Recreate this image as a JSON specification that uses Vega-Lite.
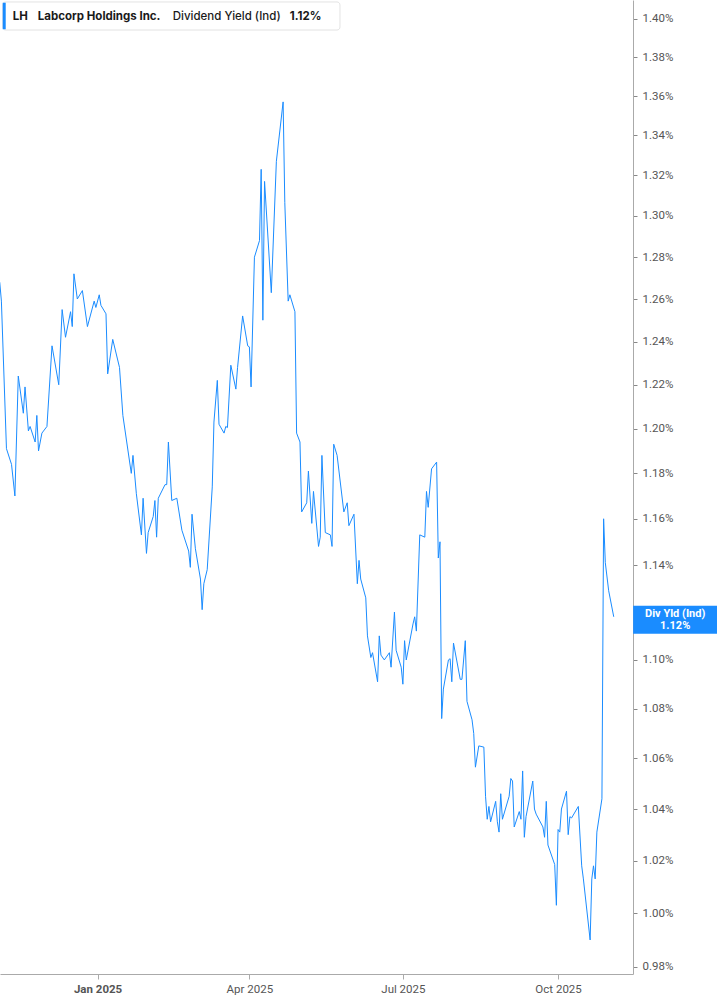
{
  "$schema": "https://vega.github.io/schema/vega-lite/v6.json",
  "width": 633,
  "height": 974,
  "autosize": "none",
  "padding": {"left": 0, "top": 0, "right": 84, "bottom": 31},
  "background": "white",
  "config": {"view": {"stroke": null}},
  "layer": [
    {
      "data": {"values": [
        {"date":"2024-11-04","yield":1.268},{"date":"2024-11-05","yield":1.259},{"date":"2024-11-08","yield":1.191},{"date":"2024-11-11","yield":1.184},{"date":"2024-11-13","yield":1.170},{"date":"2024-11-15","yield":1.224},{"date":"2024-11-18","yield":1.207},{"date":"2024-11-19","yield":1.219},{"date":"2024-11-21","yield":1.199},{"date":"2024-11-22","yield":1.201},{"date":"2024-11-25","yield":1.194},{"date":"2024-11-26","yield":1.206},{"date":"2024-11-27","yield":1.190},{"date":"2024-11-29","yield":1.198},
        {"date":"2024-12-02","yield":1.201},{"date":"2024-12-05","yield":1.238},{"date":"2024-12-09","yield":1.220},{"date":"2024-12-11","yield":1.255},{"date":"2024-12-13","yield":1.242},{"date":"2024-12-16","yield":1.254},{"date":"2024-12-17","yield":1.247},{"date":"2024-12-18","yield":1.272},{"date":"2024-12-20","yield":1.260},{"date":"2024-12-23","yield":1.264},{"date":"2024-12-26","yield":1.247},{"date":"2024-12-30","yield":1.259},{"date":"2024-12-31","yield":1.256},
        {"date":"2025-01-02","yield":1.262},{"date":"2025-01-03","yield":1.257},{"date":"2025-01-06","yield":1.253},{"date":"2025-01-07","yield":1.225},{"date":"2025-01-10","yield":1.241},{"date":"2025-01-14","yield":1.228},{"date":"2025-01-16","yield":1.206},{"date":"2025-01-21","yield":1.180},{"date":"2025-01-22","yield":1.188},{"date":"2025-01-24","yield":1.171},{"date":"2025-01-27","yield":1.153},{"date":"2025-01-28","yield":1.169},{"date":"2025-01-30","yield":1.145},{"date":"2025-01-31","yield":1.154},
        {"date":"2025-02-03","yield":1.161},{"date":"2025-02-04","yield":1.168},{"date":"2025-02-05","yield":1.152},{"date":"2025-02-06","yield":1.169},{"date":"2025-02-10","yield":1.175},{"date":"2025-02-11","yield":1.175},{"date":"2025-02-12","yield":1.194},{"date":"2025-02-14","yield":1.168},{"date":"2025-02-17","yield":1.169},{"date":"2025-02-20","yield":1.155},{"date":"2025-02-24","yield":1.146},{"date":"2025-02-25","yield":1.139},{"date":"2025-02-26","yield":1.162},{"date":"2025-02-28","yield":1.147},
        {"date":"2025-03-03","yield":1.134},{"date":"2025-03-04","yield":1.121},{"date":"2025-03-05","yield":1.132},{"date":"2025-03-07","yield":1.138},{"date":"2025-03-10","yield":1.174},{"date":"2025-03-11","yield":1.203},{"date":"2025-03-13","yield":1.222},{"date":"2025-03-14","yield":1.202},{"date":"2025-03-17","yield":1.198},{"date":"2025-03-18","yield":1.201},{"date":"2025-03-19","yield":1.2005},{"date":"2025-03-21","yield":1.229},{"date":"2025-03-24","yield":1.218},{"date":"2025-03-25","yield":1.228},{"date":"2025-03-28","yield":1.252},{"date":"2025-03-31","yield":1.238},
        {"date":"2025-04-01","yield":1.2375},{"date":"2025-04-02","yield":1.219},{"date":"2025-04-04","yield":1.280},{"date":"2025-04-07","yield":1.288},{"date":"2025-04-08","yield":1.323},{"date":"2025-04-09","yield":1.250},{"date":"2025-04-10","yield":1.317},{"date":"2025-04-14","yield":1.263},{"date":"2025-04-17","yield":1.327},{"date":"2025-04-21","yield":1.357},{"date":"2025-04-22","yield":1.3065},{"date":"2025-04-24","yield":1.259},{"date":"2025-04-25","yield":1.262},{"date":"2025-04-28","yield":1.254},{"date":"2025-04-29","yield":1.198},
        {"date":"2025-05-01","yield":1.194},{"date":"2025-05-02","yield":1.163},{"date":"2025-05-05","yield":1.167},{"date":"2025-05-06","yield":1.181},{"date":"2025-05-08","yield":1.158},{"date":"2025-05-09","yield":1.172},{"date":"2025-05-12","yield":1.148},{"date":"2025-05-13","yield":1.152},{"date":"2025-05-14","yield":1.188},{"date":"2025-05-16","yield":1.154},{"date":"2025-05-19","yield":1.153},{"date":"2025-05-20","yield":1.148},{"date":"2025-05-21","yield":1.193},{"date":"2025-05-23","yield":1.188},{"date":"2025-05-27","yield":1.163},{"date":"2025-05-29","yield":1.167},{"date":"2025-05-30","yield":1.157},
        {"date":"2025-06-02","yield":1.162},{"date":"2025-06-04","yield":1.132},{"date":"2025-06-05","yield":1.142},{"date":"2025-06-06","yield":1.134},{"date":"2025-06-09","yield":1.126},{"date":"2025-06-10","yield":1.110},{"date":"2025-06-12","yield":1.101},{"date":"2025-06-13","yield":1.103},{"date":"2025-06-16","yield":1.091},{"date":"2025-06-17","yield":1.110},{"date":"2025-06-18","yield":1.102},{"date":"2025-06-20","yield":1.100},{"date":"2025-06-23","yield":1.103},{"date":"2025-06-24","yield":1.097},{"date":"2025-06-26","yield":1.120},{"date":"2025-06-27","yield":1.104},{"date":"2025-06-30","yield":1.097},
        {"date":"2025-07-01","yield":1.090},{"date":"2025-07-02","yield":1.108},{"date":"2025-07-03","yield":1.100},{"date":"2025-07-07","yield":1.115},{"date":"2025-07-08","yield":1.118},{"date":"2025-07-09","yield":1.112},{"date":"2025-07-11","yield":1.153},{"date":"2025-07-14","yield":1.152},{"date":"2025-07-15","yield":1.172},{"date":"2025-07-16","yield":1.165},{"date":"2025-07-18","yield":1.182},{"date":"2025-07-21","yield":1.185},{"date":"2025-07-22","yield":1.143},{"date":"2025-07-23","yield":1.150},{"date":"2025-07-24","yield":1.076},{"date":"2025-07-25","yield":1.088},{"date":"2025-07-28","yield":1.100},{"date":"2025-07-29","yield":1.1005},{"date":"2025-07-30","yield":1.091},{"date":"2025-07-31","yield":1.107},
        {"date":"2025-08-04","yield":1.092},{"date":"2025-08-05","yield":1.092},{"date":"2025-08-07","yield":1.108},{"date":"2025-08-08","yield":1.083},{"date":"2025-08-11","yield":1.0755},{"date":"2025-08-12","yield":1.070},{"date":"2025-08-13","yield":1.0565},{"date":"2025-08-15","yield":1.065},{"date":"2025-08-18","yield":1.0645},{"date":"2025-08-19","yield":1.045},{"date":"2025-08-20","yield":1.036},{"date":"2025-08-21","yield":1.041},{"date":"2025-08-22","yield":1.035},{"date":"2025-08-25","yield":1.043},{"date":"2025-08-26","yield":1.035},{"date":"2025-08-27","yield":1.031},{"date":"2025-08-28","yield":1.046},{"date":"2025-08-29","yield":1.036},
        {"date":"2025-09-02","yield":1.045},{"date":"2025-09-03","yield":1.052},{"date":"2025-09-04","yield":1.051},{"date":"2025-09-05","yield":1.033},{"date":"2025-09-08","yield":1.039},{"date":"2025-09-09","yield":1.036},{"date":"2025-09-10","yield":1.055},{"date":"2025-09-11","yield":1.029},{"date":"2025-09-12","yield":1.037},{"date":"2025-09-16","yield":1.051},{"date":"2025-09-17","yield":1.040},{"date":"2025-09-18","yield":1.038},{"date":"2025-09-22","yield":1.033},{"date":"2025-09-23","yield":1.029},{"date":"2025-09-24","yield":1.043},{"date":"2025-09-25","yield":1.026},{"date":"2025-09-29","yield":1.0185},{"date":"2025-09-30","yield":1.003},
        {"date":"2025-10-01","yield":1.032},{"date":"2025-10-02","yield":1.031},{"date":"2025-10-03","yield":1.040},{"date":"2025-10-06","yield":1.047},{"date":"2025-10-07","yield":1.030},{"date":"2025-10-08","yield":1.037},{"date":"2025-10-09","yield":1.0365},{"date":"2025-10-13","yield":1.041},{"date":"2025-10-15","yield":1.018},{"date":"2025-10-16","yield":1.013},{"date":"2025-10-20","yield":0.990},{"date":"2025-10-21","yield":1.013},{"date":"2025-10-22","yield":1.018},{"date":"2025-10-23","yield":1.013},{"date":"2025-10-24","yield":1.031},{"date":"2025-10-27","yield":1.044},{"date":"2025-10-28","yield":1.160},{"date":"2025-10-29","yield":1.141},{"date":"2025-10-31","yield":1.129},
        {"date":"2025-11-03","yield":1.118}
      ]},
      "mark": {"type": "line", "color": "#1a8cff", "strokeWidth": 1, "interpolate": "linear"},
      "encoding": {
        "x": {
          "field": "date", "type": "temporal",
          "scale": {"type": "utc", "domain": [{"year":2024,"month":11,"date":4,"hours":4,"utc":true},{"year":2025,"month":11,"date":14,"hours":10,"utc":true}]},
          "axis": {
            "title": null, "orient": "bottom",
            "values": [{"year":2025,"month":1,"date":1,"utc":true},{"year":2025,"month":4,"date":1,"utc":true},{"year":2025,"month":7,"date":1,"utc":true},{"year":2025,"month":10,"date":1,"utc":true}],
            "labelExpr": "utcFormat(datum.value, '%b %Y')",
            "labelFont": "Roboto", "labelFontSize": 11.5, "labelColor": "#555555",
            "labelFontWeight": {"condition": {"test": "utcmonth(datum.value) == 0", "value": "bold"}, "value": "normal"},
            "labelPadding": 4, "tickSize": 5, "tickColor": "#aaaaaa", "domainColor": "#aaaaaa", "domainWidth": 1, "grid": false
          }
        },
        "y": {
          "field": "yield", "type": "quantitative",
          "scale": {"type": "log", "domain": [0.9774, 1.41004], "nice": false},
          "axis": {
            "title": null, "orient": "right",
            "values": [0.98,1.0,1.02,1.04,1.06,1.08,1.1,1.14,1.16,1.18,1.2,1.22,1.24,1.26,1.28,1.3,1.32,1.34,1.36,1.38,1.4],
            "labelExpr": "format(datum.value, '.2f') + '%'",
            "labelFont": "Roboto", "labelFontSize": 11.5, "labelColor": "#555555",
            "labelPadding": 5, "tickSize": 4, "tickColor": "#888888", "domainColor": "#aaaaaa", "domainWidth": 1, "grid": false
          }
        }
      }
    },
    {
      "data": {"values": [{}]},
      "mark": {"type": "rect", "fill": "white", "stroke": "#e3e3e3", "strokeWidth": 1, "cornerRadius": 3},
      "encoding": {
        "x": {"datum": {"year":2024,"month":11,"date":5,"hours":19,"utc":true}, "type": "temporal", "scale": {"type": "utc", "domain": [{"year":2024,"month":11,"date":4,"hours":4,"utc":true},{"year":2025,"month":11,"date":14,"hours":10,"utc":true}]}},
        "x2": {"datum": {"year":2025,"month":5,"date":24,"hours":17,"utc":true}},
        "y": {"datum": 1.4090, "type": "quantitative", "scale": {"type": "log", "domain": [0.9774, 1.41004], "nice": false}},
        "y2": {"datum": 1.3942}
      }
    },
    {
      "data": {"values": [{}]},
      "mark": {"type": "rule", "color": "#1a8cff", "strokeWidth": 3},
      "encoding": {
        "x": {"datum": {"year":2024,"month":11,"date":6,"hours":16,"utc":true}, "type": "temporal", "scale": {"type": "utc", "domain": [{"year":2024,"month":11,"date":4,"hours":4,"utc":true},{"year":2025,"month":11,"date":14,"hours":10,"utc":true}]}},
        "y": {"datum": 1.4086, "type": "quantitative", "scale": {"type": "log", "domain": [0.9774, 1.41004], "nice": false}},
        "y2": {"datum": 1.3946}
      }
    },
    {
      "data": {"values": [{}]},
      "mark": {"type": "text", "text": "LH", "font": "Inter", "fontSize": 11.5, "fontWeight": 700, "color": "#1a1a1a", "align": "left", "baseline": "middle"},
      "encoding": {
        "x": {"datum": {"year":2024,"month":11,"date":11,"hours":17,"utc":true}, "type": "temporal", "scale": {"type": "utc", "domain": [{"year":2024,"month":11,"date":4,"hours":4,"utc":true},{"year":2025,"month":11,"date":14,"hours":10,"utc":true}]}},
        "y": {"datum": 1.4011, "type": "quantitative", "scale": {"type": "log", "domain": [0.9774, 1.41004], "nice": false}}
      }
    },
    {
      "data": {"values": [{}]},
      "mark": {"type": "text", "text": "Labcorp Holdings Inc.", "font": "Inter", "fontSize": 11.5, "fontWeight": 700, "color": "#1a1a1a", "align": "left", "baseline": "middle"},
      "encoding": {
        "x": {"datum": {"year":2024,"month":11,"date":26,"hours":13,"utc":true}, "type": "temporal", "scale": {"type": "utc", "domain": [{"year":2024,"month":11,"date":4,"hours":4,"utc":true},{"year":2025,"month":11,"date":14,"hours":10,"utc":true}]}},
        "y": {"datum": 1.4011, "type": "quantitative", "scale": {"type": "log", "domain": [0.9774, 1.41004], "nice": false}}
      }
    },
    {
      "data": {"values": [{}]},
      "mark": {"type": "text", "text": "Dividend Yield (Ind)", "font": "Inter", "fontSize": 11.5, "fontWeight": 500, "color": "#1a1a1a", "align": "left", "baseline": "middle"},
      "encoding": {
        "x": {"datum": {"year":2025,"month":2,"date":14,"hours":14,"utc":true}, "type": "temporal", "scale": {"type": "utc", "domain": [{"year":2024,"month":11,"date":4,"hours":4,"utc":true},{"year":2025,"month":11,"date":14,"hours":10,"utc":true}]}},
        "y": {"datum": 1.4011, "type": "quantitative", "scale": {"type": "log", "domain": [0.9774, 1.41004], "nice": false}}
      }
    },
    {
      "data": {"values": [{}]},
      "mark": {"type": "text", "text": "1.12%", "font": "Inter", "fontSize": 11.5, "fontWeight": 700, "color": "#1a1a1a", "align": "left", "baseline": "middle"},
      "encoding": {
        "x": {"datum": {"year":2025,"month":4,"date":25,"hours":0,"utc":true}, "type": "temporal", "scale": {"type": "utc", "domain": [{"year":2024,"month":11,"date":4,"hours":4,"utc":true},{"year":2025,"month":11,"date":14,"hours":10,"utc":true}]}},
        "y": {"datum": 1.4011, "type": "quantitative", "scale": {"type": "log", "domain": [0.9774, 1.41004], "nice": false}}
      }
    },
    {
      "data": {"values": [{}]},
      "mark": {"type": "rect", "fill": "#1a8cff", "clip": false},
      "encoding": {
        "x": {"datum": {"year":2025,"month":11,"date":14,"hours":12,"utc":true}, "type": "temporal", "scale": {"type": "utc", "domain": [{"year":2024,"month":11,"date":4,"hours":4,"utc":true},{"year":2025,"month":11,"date":14,"hours":10,"utc":true}]}},
        "x2": {"datum": {"year":2026,"month":1,"date":3,"hours":8,"utc":true}},
        "y": {"datum": 1.12261, "type": "quantitative", "scale": {"type": "log", "domain": [0.9774, 1.41004], "nice": false}},
        "y2": {"datum": 1.11089}
      }
    },
    {
      "data": {"values": [{}]},
      "mark": {"type": "text", "text": "Div Yld (Ind)", "font": "Roboto", "fontSize": 11, "fontWeight": "bold", "color": "white", "align": "center", "baseline": "middle", "clip": false},
      "encoding": {
        "x": {"datum": {"year":2025,"month":12,"date":9,"hours":10,"utc":true}, "type": "temporal", "scale": {"type": "utc", "domain": [{"year":2024,"month":11,"date":4,"hours":4,"utc":true},{"year":2025,"month":11,"date":14,"hours":10,"utc":true}]}},
        "y": {"datum": 1.1192, "type": "quantitative", "scale": {"type": "log", "domain": [0.9774, 1.41004], "nice": false}}
      }
    },
    {
      "data": {"values": [{}]},
      "mark": {"type": "text", "text": "1.12%", "font": "Roboto", "fontSize": 11, "fontWeight": "bold", "color": "white", "align": "center", "baseline": "middle", "clip": false},
      "encoding": {
        "x": {"datum": {"year":2025,"month":12,"date":9,"hours":10,"utc":true}, "type": "temporal", "scale": {"type": "utc", "domain": [{"year":2024,"month":11,"date":4,"hours":4,"utc":true},{"year":2025,"month":11,"date":14,"hours":10,"utc":true}]}},
        "y": {"datum": 1.11416, "type": "quantitative", "scale": {"type": "log", "domain": [0.9774, 1.41004], "nice": false}}
      }
    }
  ]
}
